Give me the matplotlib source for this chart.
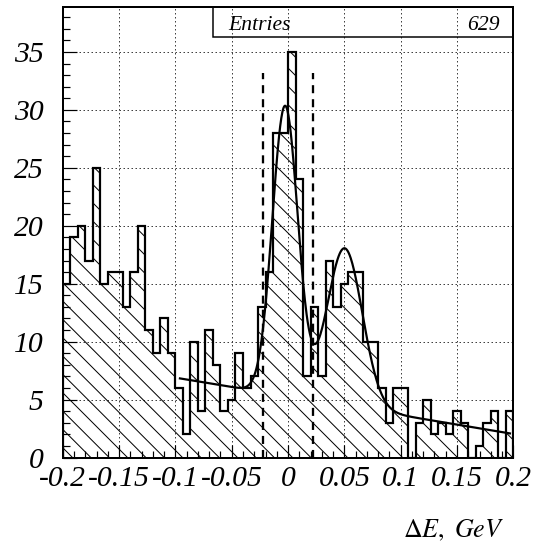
import numpy as np
import matplotlib
matplotlib.use('Agg')
import matplotlib.pyplot as plt
from matplotlib.ticker import MultipleLocator
from matplotlib.patches import Rectangle

#==============================================================================
# Histogram data (60 bins between -0.2 and 0.2 GeV)
#==============================================================================
x_lo, x_hi, n_bins = -0.2, 0.2, 60
counts = [15, 19, 20, 17, 25, 15, 16, 16, 13, 16, 20, 11, 9, 12, 9, 6, 2, 10, 4, 11,
          8, 4, 5, 9, 6, 7, 13, 16, 28, 28, 35, 24, 7, 13, 7, 17, 13, 15, 16, 16,
          10, 10, 6, 3, 6, 6, 0, 3, 5, 2, 3, 2, 4, 3, 0, 1, 3, 4, 0, 4]
entries = 629

# fit : two gaussians + linear background
g1 = [25.0, -0.0026, 0.0113]     # amplitude, mean, sigma
g2 = [13.6, 0.0503, 0.0157]
bkg = [5.27, -16.2]              # p0 + p1*x
fit_range = [-0.096, 0.197]

# signal window
cut_lo, cut_hi, cut_h = -0.022, 0.022, 33.2

xticks = [-0.2, -0.15, -0.1, -0.05, 0, 0.05, 0.1, 0.15, 0.2]
xtick_labels = ['-0.2', '-0.15', '-0.1', '-0.05', '0', '0.05', '0.1', '0.15', '0.2']
yticks = [0, 5, 10, 15, 20, 25, 30, 35]
ytick_labels = ['0', '5', '10', '15', '20', '25', '30', '35']

#==============================================================================
DPI = 110
def px(n):
    return n * 72.0 / DPI

plt.rcParams['hatch.linewidth'] = px(1.0)
plt.rcParams['mathtext.fontset'] = 'stix'
W, H = 533, 546

fig = plt.figure(figsize=(W / DPI, H / DPI), dpi=DPI)
ax = fig.add_axes([62.8 / W, 1 - 457.5 / H, 450.5 / W, 450.2 / H])

edges = np.linspace(x_lo, x_hi, n_bins + 1)
ax.stairs(counts, edges, fill=True, facecolor='none', edgecolor='black',
          hatch='\\\\', linewidth=0, zorder=2)
ax.stairs(counts, edges, baseline=0, fill=False, color='black',
          linewidth=px(2.2), zorder=3)

xf = np.linspace(fit_range[0], fit_range[1], 600)
yf = (g1[0] * np.exp(-0.5 * ((xf - g1[1]) / g1[2]) ** 2)
      + g2[0] * np.exp(-0.5 * ((xf - g2[1]) / g2[2]) ** 2)
      + bkg[0] + bkg[1] * xf)
ax.plot(xf, yf, color='black', linewidth=px(2.2), zorder=4)

ax.vlines([cut_lo, cut_hi], 0, cut_h, colors='black', linewidth=px(2.3),
          linestyles=(0, (3.5, 2.6)), zorder=4)

ax.set_xlim(x_lo, x_hi)
ax.set_ylim(0, 38.85)

ax.set_axisbelow(True)
ax.grid(True, which='major', color='0.25', linestyle=(0, (1.5, 2.5)), linewidth=px(1))

tick_font = dict(family='Liberation Serif', style='italic', size=px(29.6))
ax.set_xticks(xticks, xtick_labels, **tick_font)
ax.set_yticks(yticks, ytick_labels, **tick_font)
ax.xaxis.set_minor_locator(MultipleLocator(0.01))
ax.yaxis.set_minor_locator(MultipleLocator(1))
ax.tick_params(which='both', direction='in', top=False, right=False, width=px(1.2))
ax.tick_params(which='major', length=px(13.5))
ax.tick_params(which='minor', length=px(7))
ax.tick_params(axis='x', pad=px(8.5))
ax.tick_params(axis='y', pad=px(19))
for s in ax.spines.values():
    s.set_linewidth(px(2))
    s.set_zorder(5)

# stat box
fig.patches.append(Rectangle((213.3 / W, 1 - 36.7 / H), (513.3 - 213.3) / W, (36.7 - 7.3) / H,
                             transform=fig.transFigure, fill=False, linewidth=px(1.5),
                             edgecolor='black'))
box_font = dict(family='Liberation Serif', style='italic', size=px(21.6))
fig.text(228 / W, 1 - 29.5 / H, 'Entries', ha='left', va='baseline', **box_font)
fig.text(500 / W, 1 - 29.5 / H, str(entries), ha='right', va='baseline', **box_font)

fig.text(504 / W, 1 - 537 / H, r'$\Delta E,\ GeV$', ha='right', va='baseline', size=px(26))

fig.savefig('out.png', dpi=DPI)
